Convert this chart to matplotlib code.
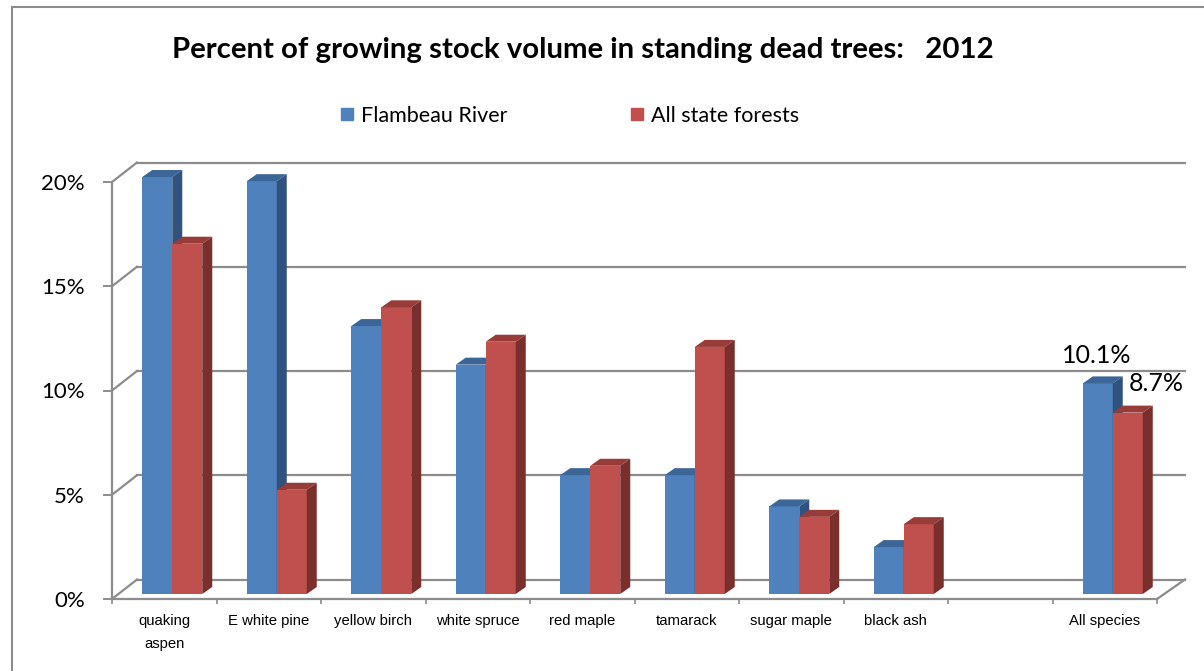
import numpy as np
import matplotlib.pyplot as plt
from matplotlib.patches import Polygon
from matplotlib.lines import Line2D

categories = ['quaking\naspen', 'E white pine', 'yellow birch', 'white spruce',
              'red maple', 'tamarack', 'sugar maple', 'black ash', '', 'All species']
flambeau = [20.0, 19.8, 12.85, 11.0, 5.7, 5.7, 4.2, 2.25, None, 10.1]
all_state = [16.8, 5.0, 13.75, 12.1, 6.15, 11.85, 3.7, 3.35, None, 8.7]
series_names = ['Flambeau River', 'All state forests']
yticks = [0, 5, 10, 15, 20]
title = 'Percent of growing stock volume in standing dead trees:   2012'

W, H = 1204, 671
fig = plt.figure(figsize=(W / 100, H / 100), dpi=100)

# front plane of the 3d box in pixels
left, right, bottom, top = 112, 1157, 599, 182
ax = fig.add_axes([left / W, 1 - bottom / H, (right - left) / W, (bottom - top) / H])
ax.set_xlim(0, len(categories))
ax.set_ylim(0, 20)

px = len(categories) / (right - left)   # data units per pixel, x
py = 20 / (bottom - top)                # data units per pixel, y
back_dx, back_dy = 25 * px, 19.5 * py
grid_c = '#8c8c8c'

# back wall gridlines + diagonals to front ticks
for t in yticks:
    ax.plot([back_dx, len(categories) + back_dx + 3 * px], [t + back_dy, t + back_dy],
            color=grid_c, lw=1.6, clip_on=False, zorder=1)
    ax.plot([0, back_dx], [t, t + back_dy], color=grid_c, lw=1.6, clip_on=False, zorder=1)
ax.plot([len(categories), len(categories) + back_dx + 3 * px], [0, back_dy],
        color=grid_c, lw=1.6, clip_on=False, zorder=1)

# bars
blue = ('#4f81bd', '#3c6598', '#30527e')
red = ('#c0504d', '#973c39', '#7b2f2d')
bw = 30 * px
fx, fy = 8 * px, 5 * py          # bar front face offset from front plane
sx, sy = 10 * px, 7 * py         # bar depth
xc = np.arange(len(categories)) + 0.5

for i in range(len(categories)):
    for j, (vals, cols) in enumerate([(flambeau, blue), (all_state, red)]):
        v = vals[i]
        if v is None:
            continue
        x0 = xc[i] + fx - bw + j * bw
        z = 3 + i * 0.1 + j * 0.01
        ax.bar(x0, v, width=bw, bottom=fy, align='edge', color=cols[0],
               edgecolor='none', zorder=z, clip_on=False)
        t = fy + v
        ax.add_patch(Polygon([(x0, t), (x0 + bw, t), (x0 + bw + sx, t + sy), (x0 + sx, t + sy)],
                             closed=True, fc=cols[1], ec='none', clip_on=False, zorder=z))
        ax.add_patch(Polygon([(x0 + bw, fy), (x0 + bw, t), (x0 + bw + sx, t + sy), (x0 + bw + sx, fy + sy)],
                             closed=True, fc=cols[2], ec='none', clip_on=False, zorder=z))

# data labels on "All species"
i = len(categories) - 1
ax.annotate(f'{flambeau[i]:.1f}%', xy=(xc[i] + fx - bw / 2, fy + flambeau[i]),
            xytext=(-1, 28), textcoords='offset pixels', ha='center', va='center',
            fontsize=18, family='Lato', zorder=10)
ax.annotate(f'{all_state[i]:.1f}%', xy=(xc[i] + fx + bw / 2, fy + all_state[i]),
            xytext=(29, 29), textcoords='offset pixels', ha='center', va='center',
            fontsize=18, family='Lato', zorder=10)

# axes styling
for s in ['top', 'right']:
    ax.spines[s].set_visible(False)
for s in ['left', 'bottom']:
    ax.spines[s].set_color(grid_c)
    ax.spines[s].set_linewidth(1.6)
ax.set_yticks(yticks)
ax.set_yticklabels([f'{t}%' for t in yticks], fontsize=16, family='Lato')
ax.tick_params(axis='y', direction='out', length=6.5, width=1.4, color=grid_c, pad=13)
ax.set_xticks(np.arange(len(categories) + 1))
ax.set_xticklabels([])
ax.tick_params(axis='x', which='major', direction='out', length=3.5, width=1.2, color=grid_c)
ax.set_xticks(xc, minor=True)
ax.set_xticklabels(categories, minor=True, fontsize=10.7, family='Liberation Sans',
                   linespacing=1.8, va='top')
ax.tick_params(axis='x', which='minor', length=0, pad=11)
ax.patch.set_visible(False)

# title and legend
fig.text(583 / W, 1 - 58 / H, title, ha='center', va='baseline', fontsize=21.2,
         fontweight='bold', family='Lato')
handles = [Line2D([], [], ls='none', marker='s', markersize=9, color=blue[0]),
           Line2D([], [], ls='none', marker='s', markersize=9, color=red[0])]
fig.legend(handles, series_names, loc='center', bbox_to_anchor=(570 / W, 1 - 116 / H),
           ncol=2, frameon=False, prop={'family': 'Lato', 'size': 15.5},
           handlelength=0.6, handletextpad=0.35, columnspacing=5.7)

# chart frame (left and top edges)
fig.add_artist(Line2D([12 / W, 12 / W], [0, 1 - 7 / H], color='#8c8c8c', lw=1.5))
fig.add_artist(Line2D([12 / W, 1], [1 - 7 / H, 1 - 7 / H], color='#8c8c8c', lw=1.5))

fig.savefig('out.png', dpi=100)
